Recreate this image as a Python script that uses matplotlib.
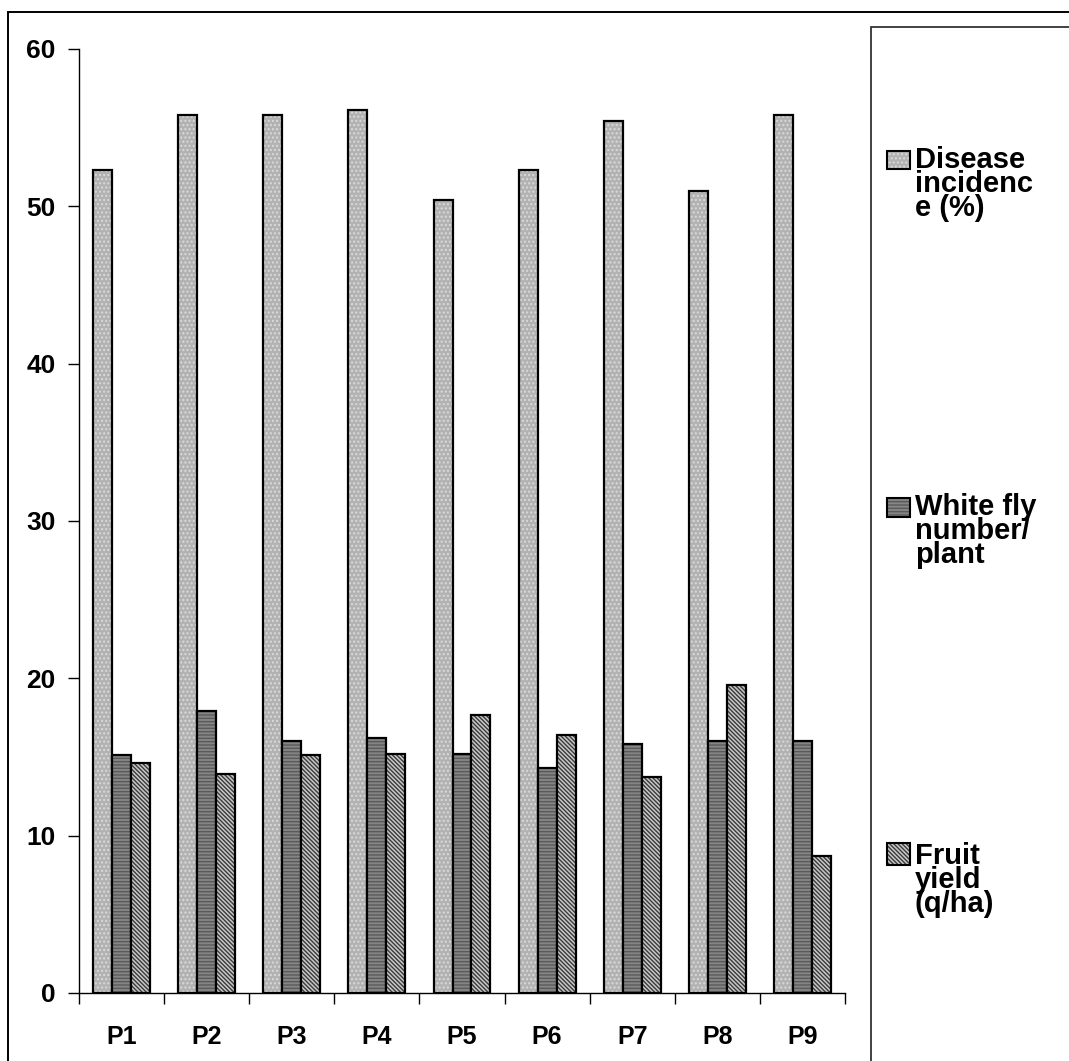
import numpy as np
import matplotlib
matplotlib.use("Agg")
from matplotlib import pyplot as plt
from matplotlib.patches import Rectangle

plt.rcParams["font.family"] = ["Liberation Sans", "DejaVu Sans"]
plt.rcParams["font.weight"] = "bold"

categories = ["P1", "P2", "P3", "P4", "P5", "P6", "P7", "P8", "P9"]
disease = [52.3, 55.8, 55.8, 56.1, 50.4, 52.3, 55.4, 51.0, 55.8]
whitefly = [15.1, 17.9, 16.0, 16.2, 15.2, 14.3, 15.8, 16.0, 16.0]
fruit = [14.6, 13.9, 15.1, 15.2, 17.7, 16.4, 13.7, 19.6, 8.7]
labels = ["Disease\nincidenc\ne (%)", "White fly\nnumber/\nplant", "Fruit\nyield\n(q/ha)"]

# fill colour, hatch, hatch colour
styles = [("#b2b2b2", "....", "#dadada"),
          ("#858585", "-----", "#5a5a5a"),
          ("#c8c8c8", "\\\\\\\\\\\\\\\\", "#3a3a3a")]

fig = plt.figure(figsize=(10.69, 10.61), dpi=100)
W, H = 1069, 1061
ax = fig.add_axes([79/W, 68/H, (845-79)/W, (993-49)/H])

x = np.arange(len(categories))
w = 0.223
for k, vals in enumerate([disease, whitefly, fruit]):
    fc, hatch, hc = styles[k]
    pos = x + (k - 1) * w
    ax.bar(pos, vals, w, color=fc, hatch=hatch, edgecolor=hc, linewidth=0)
    ax.bar(pos, vals, w, fill=False, edgecolor="black", linewidth=1.6)

ax.set_xlim(-0.5, len(categories) - 0.5)
ax.set_ylim(0, 60)
ax.set_yticks([0, 10, 20, 30, 40, 50, 60])
ax.set_xticks(x)
ax.set_xticklabels(categories)
ax.set_xticks(np.arange(len(categories) + 1) - 0.5, minor=True)
ax.tick_params(axis="x", which="major", length=0, pad=23, labelsize=18)
ax.tick_params(axis="x", which="minor", length=8, width=1.0, direction="out")
ax.tick_params(axis="y", length=8, width=1.0, direction="out", pad=9, labelsize=19)
for s in ["top", "right"]:
    ax.spines[s].set_visible(False)
ax.spines["left"].set_linewidth(1.0)
ax.spines["bottom"].set_linewidth(1.0)

# outer chart border and legend box (run off the image)
fig.add_artist(Rectangle((8/W, -0.1), 1.2, (H-12)/H + 0.1, transform=fig.transFigure,
                         fill=False, edgecolor="black", linewidth=1.4))
fig.add_artist(Rectangle((871/W, -0.1), 1.2, (H-27)/H + 0.1, transform=fig.transFigure,
                         fill=False, edgecolor="#333333", linewidth=1.3))

# legend entries: swatch top/bottom and first text baseline (pixels)
swatches = [(151, 169), (498, 517), (843, 865)]
baselines = [169, 516, 865]
for k, lab in enumerate(labels):
    fc, hatch, hc = styles[k]
    y0, y1 = swatches[k]
    fig.add_artist(Rectangle((887/W, 1 - y1/H), 23/W, (y1-y0)/H, transform=fig.transFigure,
                             facecolor=fc, hatch=hatch, edgecolor=hc, linewidth=0))
    fig.add_artist(Rectangle((887/W, 1 - y1/H), 23/W, (y1-y0)/H, transform=fig.transFigure,
                             fill=False, edgecolor="black", linewidth=1.5))
    # baseline alignment refers to the last line here
    fig.text(915/W, 1 - (baselines[k] + 47)/H, lab, fontsize=21, fontweight="bold",
             va="baseline", ha="left", linespacing=0.82)

fig.savefig("out.png", dpi=100)
